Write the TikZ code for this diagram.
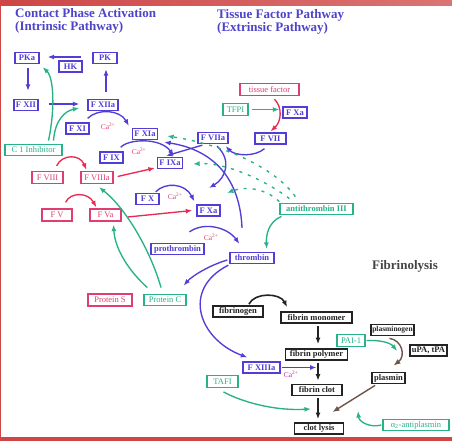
\documentclass[tikz,border=0pt]{standalone}
\usepackage{fontspec}
\setmainfont{Liberation Serif}
\usetikzlibrary{arrows.meta,calc,positioning}

\definecolor{fblue}{RGB}{82,62,214}
\definecolor{fpink}{RGB}{222,62,112}
\definecolor{fred}{RGB}{232,45,85}
\definecolor{fteal}{RGB}{40,178,135}
\definecolor{fblack}{RGB}{35,35,35}
\definecolor{fbrown}{RGB}{110,85,75}
\definecolor{fsalmon}{RGB}{190,130,110}
\definecolor{fhead}{RGB}{78,68,200}
\definecolor{fframe}{RGB}{206,70,70}
\definecolor{fcal}{RGB}{222,70,110}
\definecolor{fmag}{RGB}{205,40,175}

\tikzset{
  box/.style={draw, line width=1.3pt, font=\fontsize{8.5}{9}\selectfont,
    minimum height=11pt, inner xsep=2pt, inner ysep=1pt},
  bbox/.style={box, draw=fblue, text=fblue, font=\fontsize{8.5}{9}\selectfont\bfseries},
  rbox/.style={box, draw=fpink, text=fpink, minimum height=12pt},
  gbox/.style={box, draw=fteal, text=fteal, minimum height=11.5pt},
  kbox/.style={box, line width=1.8pt, draw=fblack, text=fblack,
    font=\fontsize{8.5}{9}\selectfont\bfseries},
  ca/.style={text=fcal, font=\fontsize{7.5}{8}\selectfont, inner sep=0pt},
  head/.style={text=fhead, font=\fontsize{13}{13}\selectfont\bfseries,
    align=left, anchor=north west, inner sep=0pt},
  arr/.style={line width=1.35pt, -{Latex[length=6.5pt,width=5pt]}},
  barr/.style={arr, draw=fblue},
  rarr/.style={arr, draw=fred},
  garr/.style={arr, draw=fteal},
  dgarr/.style={garr, dash pattern=on 3pt off 6pt},
  karr/.style={arr, draw=fblack, line width=1.6pt},
  narr/.style={draw=fbrown, line width=1.4pt, -{Latex[length=7pt,width=5.5pt,fill=fsalmon]}}
}

\begin{document}
\begin{tikzpicture}[x=1pt,y=-1pt]
\useasboundingbox (0,0) rectangle (452,441);
\fill[white] (0,0) rectangle (452,441);
\shade[left color=fframe, right color=fframe!75!white] (0,0) rectangle (452,6);
\fill[fframe] (0,437) rectangle (452,441);
\fill[fframe] (0,0) rectangle (1.2,441);

\node[head] (hintr) at (15,8.6) {Contact Phase Activation\\(Intrinsic Pathway)};
\node[head] (hextr) at (217,9.4) {Tissue Factor Pathway\\(Extrinsic Pathway)};

\node[bbox, minimum width=24pt] (PKa) at (27,58) {PKa};
\node[bbox, minimum width=23pt] (HK) at (70.5,66.5) {HK};
\node[bbox, minimum width=24pt] (PK) at (105,58) {PK};
\node[bbox, minimum width=24pt] (FXII) at (26,105) {F XII};
\node[bbox, minimum width=30pt] (FXIIa) at (103,105) {F XIIa};
\node[bbox, minimum width=23pt] (FXI) at (77.5,128.5) {F XI};
\node[ca] (ca1) at (108,126) {Ca\textsuperscript{2+}};
\node[bbox, minimum width=24pt] (FXIa) at (145,134) {F XIa};
\node[gbox, minimum width=57pt] (CInh) at (33.5,150) {C 1 Inhibitor};
\node[bbox, minimum width=23pt] (FIX) at (111.5,157.5) {F IX};
\node[ca] (ca2) at (139,151) {Ca\textsuperscript{2+}};
\node[bbox, minimum width=24pt] (FIXa) at (170,163) {F IXa};
\node[bbox, minimum width=30pt] (FVIIa) at (213,138) {F VIIa};
\node[bbox, minimum width=31pt] (FVII) at (270.5,138.5) {F VII};
\node[rbox, minimum width=59pt] (TF) at (269.5,89.5) {tissue factor};
\node[gbox, minimum width=25pt] (TFPI) at (235.5,109.5) {TFPI};
\node[bbox, minimum width=24pt] (FXaT) at (295,112.5) {F Xa};
\node[rbox, minimum width=31pt] (FVIII) at (47.5,177.5) {F VIII};
\node[rbox, minimum width=32pt] (FVIIIa) at (97,177.5) {F VIIIa};
\node[rbox, minimum width=30pt] (FV) at (57,215) {F V};
\node[rbox, minimum width=31pt] (FVa) at (105.5,215) {F Va};
\node[bbox, minimum width=23pt] (FX) at (147.5,199) {F X};
\node[ca] (ca3) at (175,196) {Ca\textsuperscript{2+}};
\node[bbox, minimum width=23pt] (FXa) at (208.5,210.5) {F Xa};
\node[bbox, minimum width=53pt] (proT) at (177.5,249) {prothrombin};
\node[ca] (ca4) at (211,237) {Ca\textsuperscript{2+}};
\node[bbox, minimum width=44pt] (thr) at (252,258) {thrombin};
\node[gbox, font=\fontsize{8.5}{9}\selectfont\bfseries, minimum width=73pt] (AT) at (316.5,209) {antithrombin III};
\node[text=fblack!85, font=\fontsize{13}{13}\selectfont\bfseries] (fibr) at (405,266) {Fibrinolysis};
\node[rbox, minimum width=44pt] (protS) at (110,300) {Protein S};
\node[gbox, minimum width=42pt] (protC) at (165,300) {Protein C};

\node[kbox, minimum width=50pt] (fbg) at (238,311.5) {fibrinogen};
\node[kbox, minimum width=71pt] (fmono) at (316.5,317.5) {fibrin monomer};
\node[kbox, minimum width=41pt, inner xsep=1pt, font=\fontsize{7.5}{8}\selectfont\bfseries] (plgn) at (392.5,330) {plasminogen};
\node[kbox, minimum width=62pt] (fpoly) at (316.5,354.5) {fibrin polymer};
\node[gbox, minimum width=28pt] (PAI) at (351,340.5) {PAI-1};
\node[kbox, minimum width=37pt] (uPA) at (428.5,350.5) {uPA, tPA};
\node[bbox, minimum width=37pt] (FXIIIa) at (261.5,367.5) {F XIIIa};
\node[ca, text=fmag] (ca5) at (291,374) {Ca\textsuperscript{2+}};
\node[kbox, minimum width=33pt] (plasmin) at (388.5,378) {plasmin};
\node[gbox, minimum width=31pt] (TAFI) at (222.5,381.5) {TAFI};
\node[kbox, minimum width=50pt] (fclot) at (317,390) {fibrin clot};
\node[kbox, minimum width=49pt] (lysis) at (319,428.5) {clot lysis};
\node[gbox, minimum width=66pt] (aAP) at (416,425) {α\textsubscript{2}-antiplasmin};

\coordinate (tox) at (209,188);
\coordinate (toxb) at (227,193);
\coordinate (plx) at (397,351);
\coordinate (lyx) at (311,409);
\coordinate (lyy) at (358,411);

\draw[barr] ($(HK.east |- PKa.east)+(-2,-1)$) -- ($(PKa.east)+(8,-1)$);
\draw[barr] ($(PKa.south)+(1,4)$) -- ($(FXII.north)+(2,-8)$);
\draw[barr] ($(FXII.east)+(10,-1)$) -- ($(FXIIa.west)+(-8,-1)$);
\draw[barr] ($(FXIIa.north)+(3,-7)$) -- ($(PK.south)+(1,5)$);
\draw[barr] ($(FXI.north east)+(-2,-4)$) .. controls (98,108) and (120,110) .. ($(FXIa.north west)+(-3,-2)$);
\draw[barr] ($(FIX.north east)+(-3,-4)$) .. controls (128,139) and (160,137) .. ($(FIXa.north)+(4,-1)$);
\draw[barr] ($(FVIIa.south west)+(5,1)$) -- ($(FIXa.north)+(-4,-1)$);
\draw[barr] ($(thr.north)+(-10,-24)$) .. controls (240,180) and (215,150) .. ($(FXIa.south east)+(6,2)$);
\draw[barr] ($(FVIIa.south)+(4,2)$) .. controls (232,160) and (226,178) .. (tox);
\draw[barr] ($(FVII.south)+(-6,4)$) .. controls (255,157) and (235,156) .. ($(FVIIa.south east)+(-3,2)$);
\draw[barr] ($(FX.north east)+(-4,-1)$) .. controls (165,182) and (185,183) .. ($(FXa.north west)+(-2,-3)$);
\draw[barr] ($(proT.north)+(12,-11)$) .. controls (205,221) and (228,228) .. ($(thr.north west)+(10,-8)$);
\draw[barr] ($(thr.west)+(-2,2)$) .. controls (210,265) and (192,276) .. ($(protC.north east)+(-3,-8)$);
\draw[barr] ($(thr.south west)+(-1,1)$) .. controls (180,290) and (200,340) .. ($(FXIIIa.north west)+(5,-4)$);
\draw[barr] ($(FXIIIa.east)+(1,0)$) -- ($(fpoly.south |- FXIIIa.east)+(0,0)$);

\draw[rarr] ($(TF.south)+(5,3)$) .. controls (283,108) and (281,122) .. ($(FVII.north)+(0,-1)$);
\draw[rarr] ($(FVIII.north east)+(-7,-5)$) .. controls (62,154) and (80,154) .. ($(FVIIIa.north west)+(6,-1)$);
\draw[rarr] ($(FV.north east)+(-7,-6)$) .. controls (70,192) and (88,192) .. ($(FVa.north west)+(7,-1)$);
\draw[rarr] ($(FVIIIa.east)+(4,-1)$) -- ($(FIXa.west)+(-2,5)$);
\draw[rarr] ($(FVa.east)+(6,2)$) -- ($(FXa.west)+(-4,0)$);

\draw[garr] ($(CInh.north)+(15,-3)$) .. controls (55,110) and (54,78) .. ($(PKa.south east)+(3,3)$);
\draw[garr] ($(CInh.north)+(20,-3)$) .. controls (55,120) and (65,111) .. ($(FXIIa.west)+(-8,3)$);
\draw[garr] ($(TFPI.east)+(3,0)$) -- ($(FXaT.west)+(-3,-3)$);
\draw[garr] ($(AT.south west)+(2,1)$) .. controls (268,222) and (266,236) .. ($(thr.north east)+(-8,-3)$);
\draw[garr] ($(protC.north)+(-4,-6)$) .. controls (152,255) and (128,210) .. ($(FVIIIa.south)+(2,3)$);
\draw[garr] ($(protC.north west)+(4,-6)$) .. controls (130,272) and (115,250) .. ($(FVa.south)+(8,3)$);
\draw[dgarr] ($(AT.north west)+(16,-6)$) .. controls (275,168) and (225,145) .. ($(FXIa.east)+(9,2)$);
\draw[dgarr] ($(AT.north west)+(10,-4)$) .. controls (265,180) and (225,162) .. ($(FIXa.east)+(10,1)$);
\draw[dgarr] ($(AT.north west)+(0,-1)$) .. controls (265,188) and (245,186) .. (toxb);

\draw[karr] ($(fbg.north east)+(-15,-1)$) .. controls (255,292) and (280,293) .. ($(fmono.north west)+(7,-4)$);
\draw[karr] ($(fmono.south)+(1.5,2)$) -- ($(fmono.south |- fpoly.north)+(1.5,-4)$);
\draw[karr] ($(fpoly.south)+(1.5,2)$) -- ($(fpoly.south |- fclot.north)+(1.5,-3)$);
\draw[karr] ($(fpoly.south |- fclot.south)+(1.5,2)$) -- ($(fpoly.south |- lysis.north)+(1.5,-3)$);

\draw[narr] ($(plgn.south)+(-3,2)$) .. controls (402,340) and (406,356) .. ($(plasmin.north)+(5,-6)$);
\draw[narr] ($(plasmin.south west)+(4,1)$) -- ($(lysis.north east)+(-12,-10)$);
\draw[garr] ($(PAI.east)+(1,0)$) .. controls (378,340) and (390,342) .. (plx);
\draw[garr] ($(TAFI.south)+(1,4)$) .. controls (240,401) and (272,411) .. (lyx);
\draw[garr] ($(aAP.west)+(-1,0)$) .. controls (370,428) and (359,422) .. (lyy);
\end{tikzpicture}
\end{document}
